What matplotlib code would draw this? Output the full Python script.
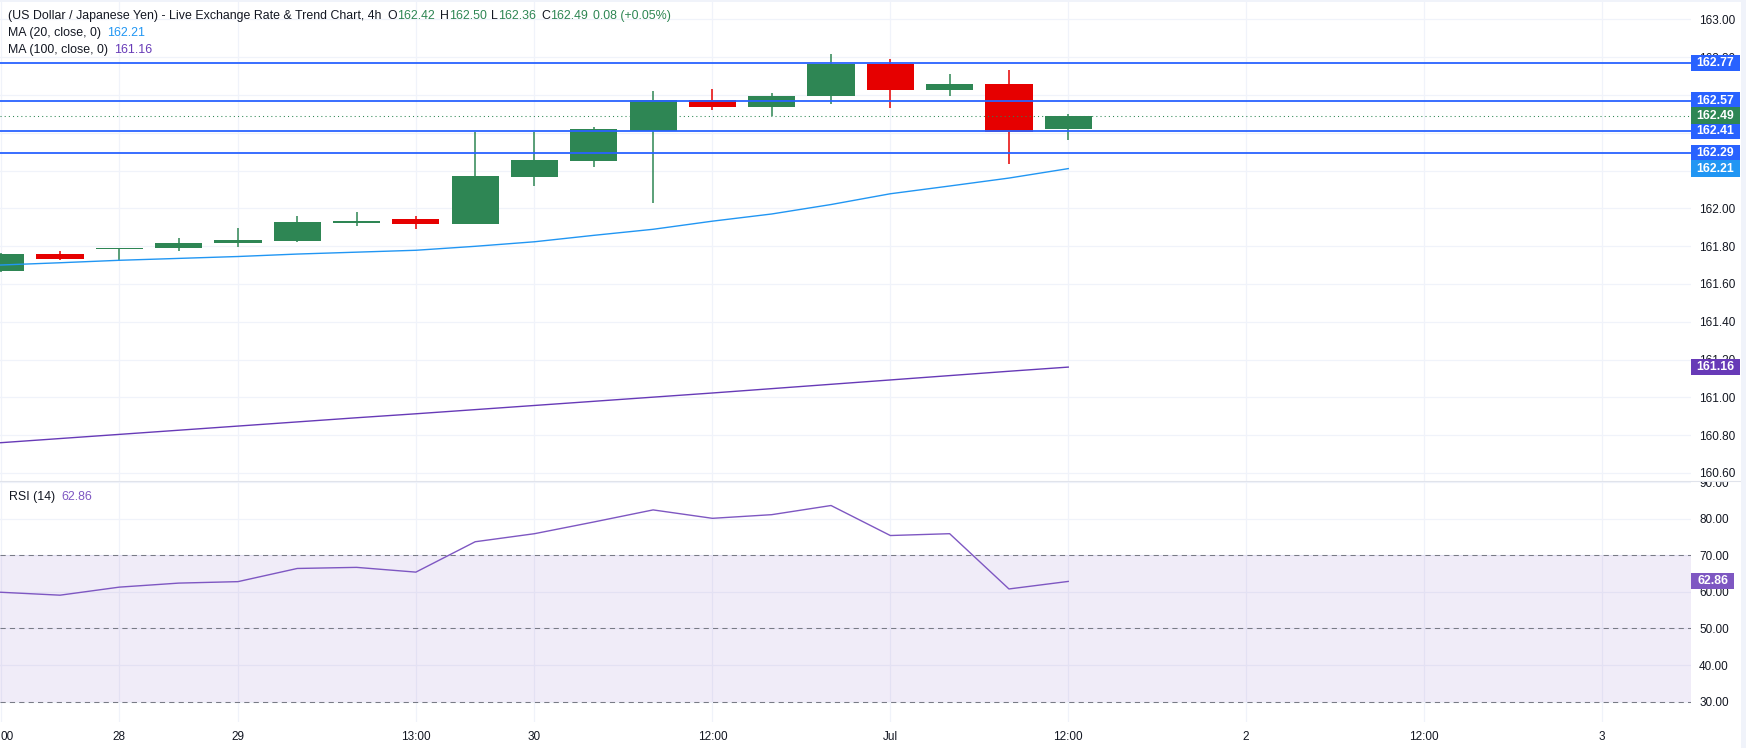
"""USD/JPY 4h candlestick chart with moving averages and RSI pane."""

import matplotlib

matplotlib.use("Agg")
import matplotlib.pyplot as plt
import matplotlib.transforms as mtransforms
from matplotlib.lines import Line2D
from matplotlib.patches import Rectangle

plt.rcParams["font.family"] = ["Liberation Sans", "DejaVu Sans"]

# ---- data ------------------------------------------------------------------
opens = [161.666, 161.756, 161.785, 161.788, 161.815, 161.829, 161.921, 161.941,
         161.915, 162.165, 162.249, 162.408, 162.573, 162.536, 162.592, 162.762,
         162.627, 162.660, 162.420]
highs = [161.762, 161.776, 161.790, 161.845, 161.898, 161.961, 161.983, 161.960,
         162.403, 162.403, 162.428, 162.619, 162.629, 162.608, 162.815, 162.788,
         162.710, 162.733, 162.500]
lows = [161.664, 161.728, 161.720, 161.776, 161.797, 161.824, 161.905, 161.889,
        161.915, 162.117, 162.220, 162.027, 162.520, 162.487, 162.550, 162.529,
        162.594, 162.236, 162.360]
closes = [161.760, 161.733, 161.790, 161.818, 161.834, 161.930, 161.935, 161.915,
          162.173, 162.258, 162.417, 162.573, 162.536, 162.594, 162.762, 162.627,
          162.660, 162.406, 162.490]

ma20 = [161.700, 161.712, 161.725, 161.735, 161.745, 161.758, 161.768, 161.778,
        161.799, 161.823, 161.857, 161.889, 161.932, 161.970, 162.020, 162.077,
        162.118, 162.160, 162.210]
ma100 = [160.760, 160.782, 160.804, 160.826, 160.848, 160.870, 160.892, 160.913,
         160.935, 160.957, 160.979, 161.001, 161.023, 161.046, 161.069, 161.092,
         161.115, 161.138, 161.160]
rsi = [59.9, 59.1, 61.3, 62.4, 62.8, 66.4, 66.7, 65.4, 73.7, 75.9, 79.1, 82.4,
       80.1, 81.1, 83.6, 75.4, 75.9, 60.8, 62.86]

levels = [162.77, 162.57, 162.41, 162.29]
last_close = 162.49

tick_bars = [0, 2, 4, 7, 9, 12, 15, 18, 21, 24, 27]
tick_texts = ["00", "28", "29", "13:00", "30", "12:00", "Jul", "12:00", "2", "12:00", "3"]

# ---- styling ---------------------------------------------------------------
W, H, DPI = 1746, 748, 100
GREEN = "#2E8654"
RED = "#E60000"
BLUE = "#2962FF"
MA20_C = "#2196F3"
MA100_C = "#673AB7"
RSI_C = "#7E57C2"
TEXT = "#131722"
GRID = "#F0F3FA"
FS = 8.5

PLOT_RIGHT = 1691
SPLIT = 480.7
RSI_BOTTOM = 722


def fx(px):
    return px / W


def fy(py):
    return 1 - py / H


def price_tag(axis, value, color, height, right_px):
    trans = mtransforms.blended_transform_factory(axis.transAxes, axis.transData)
    width = (right_px - PLOT_RIGHT) / PLOT_RIGHT
    axis.add_patch(Rectangle((1.0, value - height / 2), width, height, transform=trans,
                             facecolor=color, edgecolor="none", clip_on=False, zorder=5))
    axis.text(1.0 + width / 2, value, f"{value:.2f}", transform=trans, ha="center",
              va="center", color="white", fontsize=FS + 0.3, fontweight="bold",
              zorder=6, clip_on=False)


def text_run(fig, x_px, y_px, pieces):
    renderer = fig.canvas.get_renderer()
    x = x_px
    for text, color, gap in pieces:
        t = fig.text(fx(x), fy(y_px), text, color=color, fontsize=FS + 0.4,
                     ha="left", va="center")
        x = t.get_window_extent(renderer).x1 + gap


fig = plt.figure(figsize=(W / DPI, H / DPI), dpi=DPI)
fig.patch.set_facecolor("white")

ax = fig.add_axes([0, fy(SPLIT), fx(PLOT_RIGHT), 1 - fy(SPLIT)])
ax_r = fig.add_axes([0, fy(RSI_BOTTOM), fx(PLOT_RIGHT), fy(SPLIT) - fy(RSI_BOTTOM)])

for a in (ax, ax_r):
    for s in a.spines.values():
        s.set_visible(False)
    a.set_xlim(-0.012, 28.5)
    a.set_xticks(tick_bars)
    a.grid(True, color=GRID, linewidth=0.9, zorder=0)
    a.set_axisbelow(True)
    a.tick_params(axis="y", left=False, right=True, labelleft=False, labelright=True,
                  length=0, pad=5.8, labelsize=FS, labelcolor=TEXT)

# ---- price pane ------------------------------------------------------------
ax.set_ylim(160.559, 163.102)
price_ticks = [160.6, 160.8, 161.0, 161.2, 161.4, 161.6, 161.8, 162.0, 162.2, 162.4,
               162.6, 162.8, 163.0]
ax.set_yticks(price_ticks)
ax.set_yticklabels(["" if round(v, 1) in (162.2, 162.4, 162.6) else f"{v:.2f}"
                    for v in price_ticks])
ax.tick_params(axis="x", bottom=False, labelbottom=False, length=0)

idx = list(range(len(opens)))
colors = [GREEN if c >= o else RED for o, c in zip(opens, closes)]
bottoms = [min(o, c) for o, c in zip(opens, closes)]
heights = [max(abs(c - o), 0.006) for o, c in zip(opens, closes)]
ax.vlines(idx, lows, highs, colors=colors, linewidth=1.1, zorder=3)
ax.bar(idx, heights, bottom=bottoms, width=0.795, color=colors, zorder=4)

ax.plot(idx, ma20, color=MA20_C, linewidth=1.0, zorder=4)
ax.plot(idx, ma100, color=MA100_C, linewidth=1.0, zorder=4)

for lv in levels:
    ax.axhline(lv, color=BLUE, linewidth=1.3, zorder=4)
ax.axhline(last_close, color=GREEN, linewidth=0.75, linestyle=(0, (1, 3)), zorder=4)

tag_h = 16.5 / 189
for lv in levels:
    price_tag(ax, lv, BLUE, tag_h, 1740)
price_tag(ax, last_close, GREEN, tag_h, 1740)
price_tag(ax, ma20[-1], MA20_C, tag_h, 1740)
price_tag(ax, ma100[-1], MA100_C, tag_h, 1740)

# ---- RSI pane --------------------------------------------------------------
ax_r.set_ylim(24.45, 90.38)
ax_r.set_yticks([30, 40, 50, 60, 70, 80, 90])
ax_r.set_yticklabels([f"{v:.2f}" for v in [30, 40, 50, 60, 70, 80, 90]])
ax_r.axhspan(30, 70, color=RSI_C, alpha=0.11, linewidth=0, zorder=1)
for lv in (30, 50, 70):
    ax_r.axhline(lv, color="#787B86", linewidth=0.75, linestyle=(0, (5, 4)), zorder=2)
ax_r.plot(idx, rsi, color=RSI_C, linewidth=1.0, zorder=4)
price_tag(ax_r, rsi[-1], RSI_C, 16 / 3.66, 1734)

ax_r.set_xticklabels(tick_texts)
ax_r.tick_params(axis="x", length=0, pad=6.3, labelsize=FS, labelcolor=TEXT)
ax_r.get_xticklabels()[0].set_horizontalalignment("left")

clip = mtransforms.TransformedBbox(mtransforms.Bbox([[0, 0], [1.05, 1]]), ax_r.transAxes)
for t in ax_r.yaxis.get_major_ticks():
    t.label2.set_clip_box(clip)
    t.label2.set_clip_on(True)

# pane separator and outer border
fig.add_artist(Line2D([0, fx(1740)], [fy(SPLIT), fy(SPLIT)], color="#E0E3EB",
                      linewidth=0.8))
fig.add_artist(Rectangle((fx(1741), 0), 1 - fx(1741), 1, transform=fig.transFigure,
                         facecolor="#F0F3FA", edgecolor="none"))
fig.add_artist(Rectangle((0, fy(1.7)), 1, 1 - fy(1.7), transform=fig.transFigure,
                         facecolor="#F0F3FA", edgecolor="none"))

# ---- legend texts ----------------------------------------------------------
text_run(fig, 8, 15.7, [
    ("(US Dollar / Japanese Yen) - Live Exchange Rate & Trend Chart, 4h", TEXT, 6),
    ("O", TEXT, 0), (f"{opens[-1]:.2f}", GREEN, 5),
    ("H", TEXT, 0), (f"{highs[-1]:.2f}", GREEN, 5),
    ("L", TEXT, 0), (f"{lows[-1]:.2f}", GREEN, 5),
    ("C", TEXT, 0), (f"{closes[-1]:.2f}", GREEN, 5),
    ("0.08 (+0.05%)", GREEN, 0),
])
text_run(fig, 8, 33.3, [("MA (20, close, 0)", TEXT, 6), (f"{ma20[-1]:.2f}", MA20_C, 0)])
text_run(fig, 8, 50.0, [("MA (100, close, 0)", TEXT, 6), (f"{ma100[-1]:.2f}", MA100_C, 0)])
text_run(fig, 9, 497.0, [("RSI (14)", TEXT, 6), (f"{rsi[-1]:.2f}", RSI_C, 0)])

fig.savefig("out.png", dpi=DPI, facecolor="white")
